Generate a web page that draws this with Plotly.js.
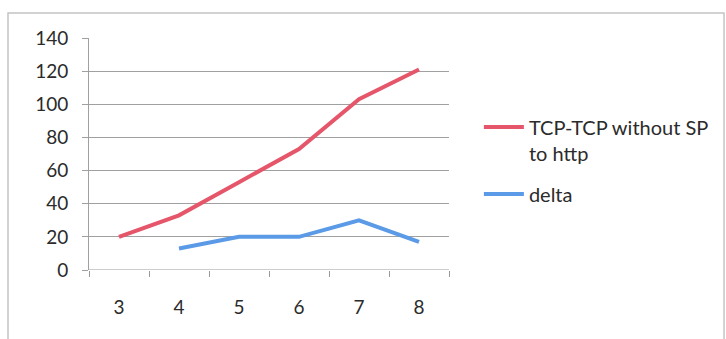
<!DOCTYPE html>
<html>
<head>
<meta charset="utf-8">
<script src="https://cdn.plot.ly/plotly-3.0.1.min.js"></script>
<style>
  html, body { margin: 0; padding: 0; background: #ffffff; }
  #chart { width: 726px; height: 339px; }
</style>
</head>
<body>
<div id="chart"></div>
<script>
// Number of hops on the x axis
const categories = ["3", "4", "5", "6", "7", "8"];

// TCP-TCP without SP to http
const tcpValues = [20, 33, 53, 73, 103, 121];

// delta (no value for 3)
const deltaCategories = ["4", "5", "6", "7", "8"];
const deltaValues = [13, 20, 20, 30, 17];

const yTicks = [0, 20, 40, 60, 80, 100, 120, 140];

const fontFamily = "Lato, 'Open Sans', sans-serif";
const textColor = "#2b2b2b";

const traces = [
  {
    x: categories,
    y: tcpValues,
    name: "TCP-TCP without SP<br>to http",
    legendgroup: "tcp",
    type: "scatter",
    mode: "lines",
    line: { color: "#e5566b", width: 4 }
  },
  {
    x: deltaCategories,
    y: deltaValues,
    name: "delta",
    legendgroup: "delta",
    type: "scatter",
    mode: "lines",
    line: { color: "#5a9ae6", width: 4 }
  }
];

const layout = {
  width: 726,
  height: 339,
  margin: { l: 89, r: 277, t: 38, b: 69 },
  paper_bgcolor: "#ffffff",
  plot_bgcolor: "#ffffff",
  font: { family: fontFamily, size: 19, color: textColor },
  showlegend: true,
  legend: {
    x: 1.083,
    xanchor: "left",
    y: 0.70,
    yanchor: "top",
    valign: "top",
    font: { family: fontFamily, size: 20, color: textColor },
    bgcolor: "rgba(0,0,0,0)",
    tracegroupgap: 12,
    itemwidth: 40
  },
  xaxis: {
    type: "category",
    categoryorder: "array",
    categoryarray: categories,
    range: [-0.5, 5.5],
    showgrid: false,
    zeroline: false,
    showline: false,
    ticks: "outside",
    tickson: "boundaries",
    ticklen: 6,
    tickcolor: "#9a9a9a",
    tickwidth: 1,
    tickfont: { family: fontFamily, size: 19, color: textColor },
    ticklabelstandoff: 24,
    fixedrange: true
  },
  yaxis: {
    range: [0, 140],
    tickvals: yTicks,
    ticktext: yTicks.map(String),
    showgrid: true,
    gridcolor: "#a0a0a0",
    gridwidth: 1,
    zeroline: false,
    showline: true,
    linecolor: "#a0a0a0",
    linewidth: 1,
    ticks: "outside",
    ticklen: 6,
    tickcolor: "#a0a0a0",
    tickfont: { family: fontFamily, size: 19, color: textColor },
    ticklabelstandoff: 10,
    fixedrange: true
  },
  shapes: [
    // x-axis baseline (drawn over the 0 gridline)
    {
      type: "line", xref: "paper", yref: "y",
      x0: 0, x1: 1, y0: 0, y1: 0,
      line: { color: "#9a9a9a", width: 1 }
    },
    // chart-area frame
    {
      type: "rect", xref: "paper", yref: "paper",
      x0: -0.225, x1: 1.764, y0: -0.33, y1: 1.108,
      line: { color: "#c4c4c4", width: 1.5 },
      fillcolor: "rgba(0,0,0,0)",
      layer: "below"
    }
  ]
};

Plotly.newPlot("chart", traces, layout, { displayModeBar: false, staticPlot: true });
</script>
</body>
</html>
